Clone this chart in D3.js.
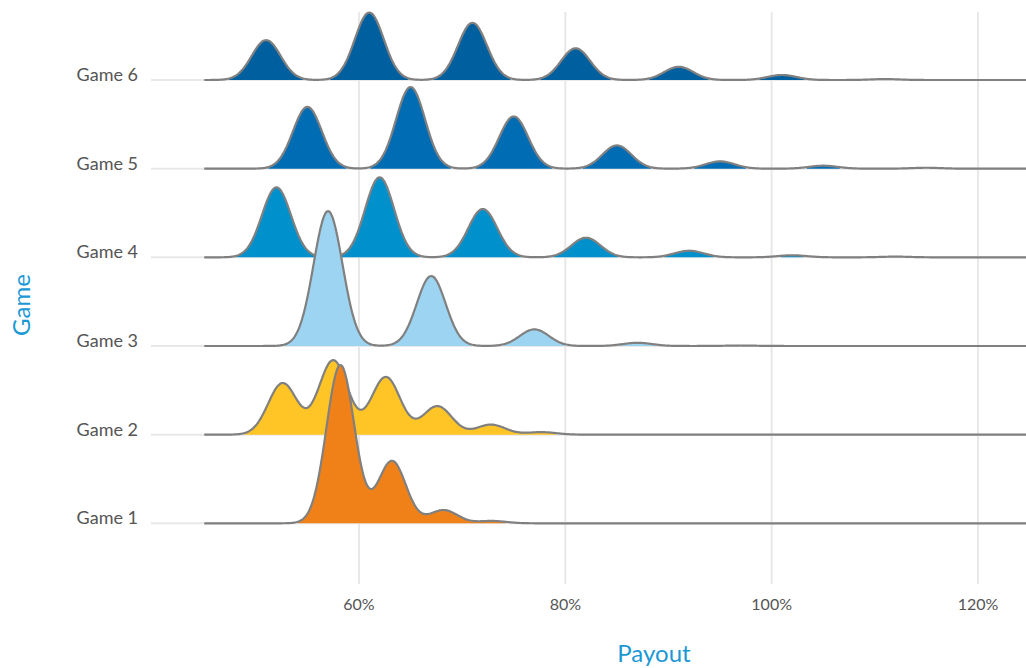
<!DOCTYPE html>
<html>
<head>
<meta charset="utf-8">
<script src="https://cdn.jsdelivr.net/npm/d3@7"></script>
<style>
    body { margin: 0; background: #fff; }
    svg { display: block; font-family: Lato, "Open Sans", sans-serif; }
</style>
</head>
<body>
<svg id="chart"></svg>
<script>
// Games, bottom to top
const GAMES = ["Game 1", "Game 2", "Game 3", "Game 4", "Game 5", "Game 6"];

// Payout ticks (%)
const PAYOUT_TICKS = [60, 80, 100, 120];

const GAME_1_MODES = [58.2, 63.2, 68.2, 72.9];
const GAME_1_SHARES = [67.0, 26.4, 5.6, 1.0];

const GAME_2_MODES = [52.6, 57.5, 62.6, 67.6, 72.8, 77.7];
const GAME_2_SHARES = [22.6, 32.6, 25.3, 12.5, 4.4, 1.1];

const GAME_3_MODES = [57, 67, 77, 87, 97];
const GAME_3_SHARES = [59.2, 30.7, 7.3, 1.4, 0.2];

const GAME_4_MODES = [52, 62, 72, 82, 92, 102, 112];
const GAME_4_SHARES = [30.7, 35.1, 21.2, 8.6, 2.9, 0.9, 0.3];

const GAME_5_MODES = [55, 65, 75, 85, 95, 105, 115];
const GAME_5_SHARES = [27.1, 35.8, 22.9, 10.2, 3.2, 1.3, 0.4];

const GAME_6_MODES = [51, 61, 71, 81, 91, 101, 111];
const GAME_6_SHARES = [17.5, 29.6, 25.1, 13.9, 5.8, 2.2, 0.4];

// Kernel bandwidth of each density (%)
const BANDWIDTHS = [1.35, 1.4, 1.4, 1.4, 1.4, 1.4];

const MODES = [GAME_1_MODES, GAME_2_MODES, GAME_3_MODES, GAME_4_MODES, GAME_5_MODES, GAME_6_MODES];
const SHARES = [GAME_1_SHARES, GAME_2_SHARES, GAME_3_SHARES, GAME_4_SHARES, GAME_5_SHARES, GAME_6_SHARES];

const FILLS = ['#f08119', '#ffc425', '#9dd4f1', '#0091cd', '#006cb4', '#00609f'];
const LINE_COLOR = '#808080';
const GRID_COLOR = '#e8e8e8';
const TITLE_COLOR = '#1a98d5';

// Canvas settings
const width = 1026;
const height = 668;
const panel = { left: 151, right: 1026, top: 12, bottom: 584 };

const svg = d3.select('svg#chart').attr('width', width).attr('height', height);

// Scales
const xScale = d3.scaleLinear().domain([60, 120]).range([359, 978]);
const yScale = d3.scalePoint().domain(GAMES).range([523.3, 80]);
const ridge = d3.scaleLinear().domain([0, 0.2]).range([0, 160]);

const X_FROM = 45, X_TO = 125, STEP = 0.1;
const FILL_MIN = 0.0018;

function density(x, modes, shares, h) {
    var s = 0;
    for (var i = 0; i < modes.length; i++) {
        var z = (x - modes[i]) / h;
        s += shares[i] / 100 * Math.exp(-z * z / 2) / (h * Math.sqrt(2 * Math.PI));
    }
    return s;
}

// Gridlines
const grid = svg.append('g');
grid.selectAll('line.v')
    .data(PAYOUT_TICKS)
    .enter().append('line')
    .attr('x1', d => xScale(d)).attr('x2', d => xScale(d))
    .attr('y1', panel.top).attr('y2', panel.bottom)
    .attr('stroke', GRID_COLOR).attr('stroke-width', 2);

grid.selectAll('line.h')
    .data(GAMES)
    .enter().append('line')
    .attr('x1', panel.left).attr('x2', panel.right)
    .attr('y1', d => yScale(d)).attr('y2', d => yScale(d))
    .attr('stroke', GRID_COLOR).attr('stroke-width', 2);

// Ridges, top one first so lower ridges sit in front
const ridges = svg.append('g');
GAMES.map((g, i) => i).reverse().forEach(i => {
    const base = yScale(GAMES[i]);
    const pts = d3.range(X_FROM, X_TO + STEP / 2, STEP).map(x => ({
        x: x,
        y: density(x, MODES[i], SHARES[i], BANDWIDTHS[i])
    }));

    const area = d3.area()
        .defined(d => d.y > FILL_MIN)
        .curve(d3.curveBasis)
        .x(d => xScale(d.x))
        .y0(base)
        .y1(d => base - ridge(d.y));

    const line = d3.line()
        .curve(d3.curveBasis)
        .x(d => xScale(d.x))
        .y(d => base - ridge(d.y));

    ridges.append('path')
        .attr('d', area(pts))
        .attr('fill', FILLS[i]);

    ridges.append('path')
        .attr('d', line(pts))
        .attr('fill', 'none')
        .attr('stroke', LINE_COLOR)
        .attr('stroke-width', 2.2)
        .attr('stroke-linejoin', 'round');
});

// Game labels
svg.append('g')
    .selectAll('text')
    .data(GAMES)
    .enter().append('text')
    .attr('x', 138)
    .attr('y', d => yScale(d) + 1)
    .attr('text-anchor', 'end')
    .attr('fill', '#555')
    .style('font-size', '18px')
    .text(d => d);

// X tick labels
svg.append('g')
    .selectAll('text')
    .data(PAYOUT_TICKS)
    .enter().append('text')
    .attr('x', d => xScale(d))
    .attr('y', 610)
    .attr('text-anchor', 'middle')
    .attr('fill', '#555')
    .style('font-size', '16px')
    .text(d => d + '%');

// Axis titles
svg.append('text')
    .attr('x', 654)
    .attr('y', 662)
    .attr('text-anchor', 'middle')
    .attr('fill', TITLE_COLOR)
    .style('font-size', '24px')
    .text('Payout');

svg.append('text')
    .attr('transform', 'translate(30,305) rotate(-90)')
    .attr('text-anchor', 'middle')
    .attr('fill', TITLE_COLOR)
    .style('font-size', '24px')
    .text('Game');
</script>
</body>
</html>
